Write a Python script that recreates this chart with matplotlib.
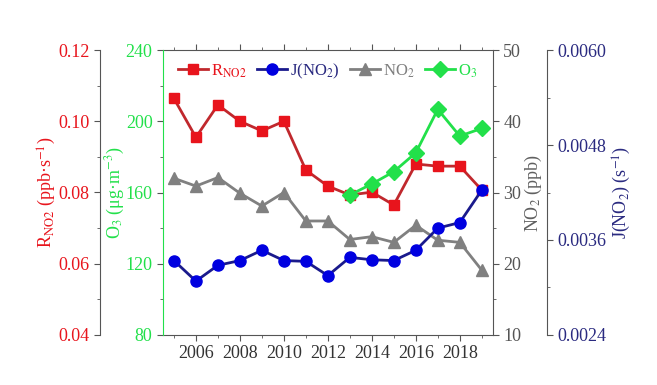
import matplotlib
matplotlib.use("Agg")
import matplotlib.pyplot as plt
from matplotlib.ticker import MultipleLocator

plt.rcParams["font.family"] = ["Liberation Serif", "DejaVu Serif"]
plt.rcParams["mathtext.fontset"] = "stix"
plt.rcParams["font.size"] = 13

years = list(range(2005, 2020))
r_no2 = [0.1064, 0.0955, 0.1046, 0.1000, 0.0973, 0.1000, 0.0863, 0.0818,
         0.0793, 0.0801, 0.0765, 0.0880, 0.0874, 0.0874, 0.0807]
j_no2 = [0.00334, 0.00308, 0.00328, 0.00334, 0.00347, 0.00334, 0.00333, 0.00315,
         0.00338, 0.00335, 0.00334, 0.00347, 0.00375, 0.00382, 0.00423]
no2 = [32.0, 30.9, 32.1, 29.9, 28.1, 30.0, 26.0, 26.0,
       23.4, 23.8, 23.0, 25.4, 23.3, 23.0, 19.1]
o3_years = list(range(2013, 2020))
o3 = [158.6, 164.8, 171.7, 182.3, 206.7, 191.7, 196.0]

RED, RED_LINE = "#e8141c", "#c0282d"
BLUE, BLUE_LINE = "#0000e0", "#1a1a8c"
GRAY = "#808080"
GREEN = "#22e04a"
NAVY = "#2a2a80"
SPINE = "#555555"

fig = plt.figure(figsize=(6.57, 3.85), dpi=100)
ax = fig.add_axes([0.248, 0.130, 0.502, 0.740])  # NO2 (right)
ax_r = ax.twinx()   # R_NO2 (far left)
ax_j = ax.twinx()   # J(NO2) (far right)
ax_o = ax.twinx()   # O3 (left)

# NO2
ax.plot(years, no2, color=GRAY, lw=2, marker="^", ms=8.5, label="NO$_2$")
ax.set_xlim(2004.5, 2019.5)
ax.set_ylim(10, 50)
ax.yaxis.tick_right()
ax.yaxis.set_label_position("right")
ax.set_ylabel("NO$_2$ (ppb)", color="#606060", labelpad=1)
ax.yaxis.set_major_locator(MultipleLocator(10))
ax.yaxis.set_minor_locator(MultipleLocator(5))
ax.xaxis.set_minor_locator(MultipleLocator(1))
ax.set_xticks(range(2006, 2019, 2))
ax.tick_params(axis="x", which="both", top=True, direction="out", colors=SPINE,
               labelcolor="#333333")
ax.tick_params(axis="y", which="both", colors=SPINE, labelcolor="#555555")
ax.tick_params(which="major", length=4)
ax.tick_params(which="minor", length=2.5)
ax.spines["left"].set_visible(False)
for s in ["bottom", "top", "right"]:
    ax.spines[s].set_color(SPINE)

# R_NO2
ax_r.plot(years, r_no2, color=RED_LINE, lw=2, marker="s", ms=7.5,
          mfc=RED, mec=RED, label="R$_{\\mathrm{NO2}}$")
ax_r.set_ylim(0.04, 0.12)
ax_r.yaxis.tick_left()
ax_r.yaxis.set_label_position("left")
ax_r.spines["left"].set_position(("axes", -0.191))
ax_r.spines["left"].set_color(SPINE)
for s in ["right", "top", "bottom"]:
    ax_r.spines[s].set_visible(False)
ax_r.yaxis.set_major_locator(MultipleLocator(0.02))
ax_r.yaxis.set_minor_locator(MultipleLocator(0.01))
ax_r.yaxis.set_major_formatter(plt.FormatStrFormatter("%.2f"))
ax_r.tick_params(axis="y", which="both", colors=SPINE, labelcolor=RED)
ax_r.tick_params(which="major", length=4)
ax_r.tick_params(which="minor", length=2.5)
ax_r.set_ylabel("R$_{\\mathrm{NO2}}$ (ppb·s$^{\\mathrm{-1}}$)", color=RED, labelpad=0)

# J(NO2)
ax_j.plot(years, j_no2, color=BLUE_LINE, lw=2, marker="o", ms=8,
          mfc=BLUE, mec=BLUE, label="J(NO$_2$)")
ax_j.set_ylim(0.0024, 0.0060)
ax_j.spines["right"].set_position(("axes", 1.164))
ax_j.spines["right"].set_color(SPINE)
for s in ["left", "top", "bottom"]:
    ax_j.spines[s].set_visible(False)
ax_j.yaxis.set_major_locator(MultipleLocator(0.0012))
ax_j.yaxis.set_minor_locator(MultipleLocator(0.0006))
ax_j.yaxis.set_major_formatter(plt.FormatStrFormatter("%.4f"))
ax_j.tick_params(axis="y", which="both", colors=SPINE, labelcolor=NAVY)
ax_j.tick_params(which="major", length=4)
ax_j.tick_params(which="minor", length=2.5)
ax_j.set_ylabel("J(NO$_2$) (s$^{\\mathrm{-1}}$)", color=NAVY, labelpad=3)

# O3
ax_o.plot(o3_years, o3, color=GREEN, lw=2, marker="D", ms=8, label="O$_3$")
ax_o.set_ylim(80, 240)
ax_o.yaxis.tick_left()
ax_o.yaxis.set_label_position("left")
ax_o.spines["left"].set_color(GREEN)
for s in ["right", "top", "bottom"]:
    ax_o.spines[s].set_visible(False)
ax_o.yaxis.set_major_locator(MultipleLocator(40))
ax_o.yaxis.set_minor_locator(MultipleLocator(20))
ax_o.tick_params(axis="y", which="both", colors=SPINE, labelcolor=GREEN)
ax_o.tick_params(which="major", length=4)
ax_o.tick_params(which="minor", length=2.5)
ax_o.set_ylabel("O$_3$ (μg·m$^{\\mathrm{-3}}$)", color=GREEN, labelpad=-1)

handles = [ax_r.lines[0], ax_j.lines[0], ax.lines[0], ax_o.lines[0]]
leg = ax_o.legend(handles=handles, loc="upper center", ncol=4, frameon=False,
                  fontsize=12, handlelength=1.8, handletextpad=0.2,
                  columnspacing=0.6, borderaxespad=0.3,
                  bbox_to_anchor=(0.5, 1.0))
for txt, c in zip(leg.get_texts(), [RED, NAVY, GRAY, GREEN]):
    txt.set_color(c)

fig.savefig("out.png", dpi=100)
